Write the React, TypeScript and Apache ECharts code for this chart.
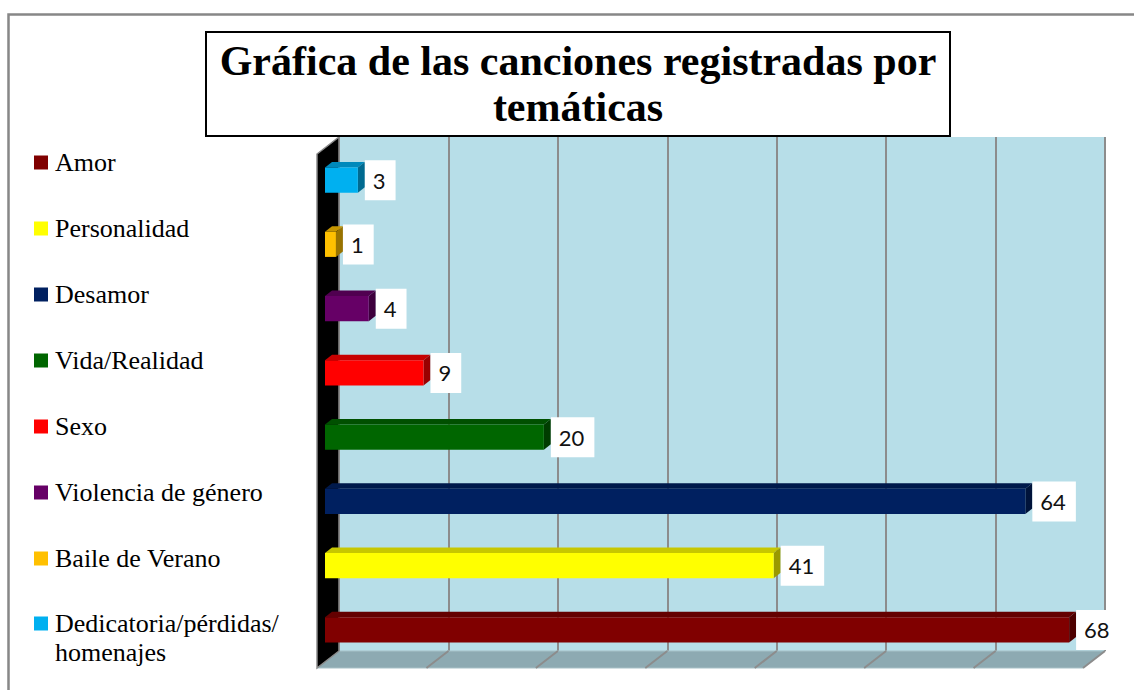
import React, { useEffect, useRef } from 'react';
import * as echarts from 'echarts';

// Categories listed bottom-first (category axis starts at the bottom)
const categories = [
  'Amor',
  'Personalidad',
  'Desamor',
  'Vida/Realidad',
  'Sexo',
  'Violencia de género',
  'Baile de Verano',
  'Dedicatoria/pérdidas/homenajes',
];
const values = [68, 41, 64, 20, 9, 4, 1, 3];
const colors = ['#800000', '#FFFF00', '#002060', '#006600', '#FF0000', '#660066', '#FFC000', '#00B0F0'];
const titleText = 'Gráfica de las canciones registradas por\ntemáticas';
const xMin = 0;
const xMax = 70;
const xStep = 10;

function shade(hex: string, f: number): string {
  const n = parseInt(hex.slice(1), 16);
  const r = Math.round(((n >> 16) & 255) * f);
  const g = Math.round(((n >> 8) & 255) * f);
  const b = Math.round((n & 255) * f);
  return `rgb(${r},${g},${b})`;
}

export default function App() {
  const ref = useRef<HTMLDivElement>(null);

  useEffect(() => {
    document.body.style.margin = '0';
    const chart = echarts.init(ref.current as HTMLDivElement, null, { renderer: 'svg' });

    // projection offsets (pixels) for the 3D look
    const FX = -14, FY = 11; // front face of bars
    const BX = -7, BY = 5.5; // back face of bars
    const DX = -22, DY = 17; // wall depth

    const wallSeries: any = {
      type: 'custom',
      name: '__walls',
      z: 1,
      silent: true,
      data: [[0, 0]],
      encode: { x: 0, y: 1 },
      renderItem: (params: any, api: any) => {
        const cs = params.coordSys;
        const x = cs.x, y = cs.y, w = cs.width, h = cs.height;
        const children: any[] = [
          {
            type: 'polygon',
            shape: { points: [[x, y + h], [x + w, y + h], [x + w + DX, y + h + DY], [x + DX, y + h + DY]] },
            style: { fill: '#8DAAB2', stroke: '#A7C1C7', lineWidth: 1 },
          },
          {
            type: 'polygon',
            shape: { points: [[x, y], [x, y + h], [x + DX, y + h + DY], [x + DX, y + DY]] },
            style: { fill: '#000000', stroke: '#8A8A8A', lineWidth: 1.5 },
          },
        ];
        for (let v = xMin + xStep; v <= xMax; v += xStep) {
          const px = api.coord([v, 0])[0];
          children.push({
            type: 'line',
            shape: { x1: px, y1: y + h, x2: px + DX, y2: y + h + DY },
            style: { stroke: '#8C8C8C', lineWidth: 2 },
          });
        }
        return { type: 'group', children };
      },
    };

    const barSeries: any[] = categories.map((name, i) => ({
      type: 'custom',
      name,
      z: 3,
      itemStyle: { color: colors[i] },
      data: [[values[i], i]],
      encode: { x: 0, y: 1 },
      renderItem: (params: any, api: any) => {
        const v = api.value(0);
        const c = api.value(1);
        const s = api.coord([xMin, c]);
        const e = api.coord([v, c]);
        const band = api.size([0, 1])[1];
        const h = band * 0.39;
        const cy = s[1] + FY;
        const top = cy - h / 2;
        const x0 = s[0] + FX, x1 = e[0] + FX;
        const xb0 = s[0] + BX, xb1 = e[0] + BX;
        const dy = FY - BY;
        return {
          type: 'group',
          children: [
            {
              type: 'polygon',
              shape: { points: [[x0, top], [x1, top], [xb1, top - dy], [xb0, top - dy]] },
              style: { fill: shade(colors[i], 0.78) },
            },
            {
              type: 'polygon',
              shape: { points: [[x1, top], [xb1, top - dy], [xb1, top - dy + h], [x1, top + h]] },
              style: { fill: shade(colors[i], 0.6) },
            },
            {
              type: 'rect',
              shape: { x: x0, y: top, width: x1 - x0, height: h },
              style: { fill: colors[i] },
            },
            {
              type: 'text',
              x: xb1,
              y: cy,
              style: {
                text: String(v),
                fontSize: 22,
                fontFamily: 'Lato',
                fill: '#111111',
                align: 'left',
                verticalAlign: 'middle',
                backgroundColor: '#ffffff',
                padding: [9, 10, 9, 8],
                lineHeight: 22,
              },
            },
          ],
        };
      },
    }));

    const legendText = {
      fontFamily: 'Liberation Serif',
      fontSize: 26,
      color: '#000000',
      lineHeight: 29,
      padding: [0, 0, 0, 2],
    };

    chart.setOption({
      animation: false,
      backgroundColor: '#ffffff',
      title: {
        text: titleText,
        left: 564,
        top: 32,
        textAlign: 'center',
        padding: [6, 14, 6, 14],
        borderColor: '#000000',
        borderWidth: 2,
        backgroundColor: '#ffffff',
        textStyle: {
          fontFamily: 'Liberation Serif',
          fontWeight: 'bold',
          fontSize: 42,
          lineHeight: 46,
          color: '#000000',
        },
      },
      legend: [
        {
          orient: 'vertical',
          left: 34,
          top: 148,
          padding: 0,
          itemGap: 37,
          itemWidth: 14,
          itemHeight: 14,
          icon: 'rect',
          data: categories.slice(0, 7),
          textStyle: legendText,
        },
        {
          orient: 'vertical',
          left: 34,
          top: 580,
          padding: 0,
          itemWidth: 14,
          itemHeight: 14,
          icon: 'rect',
          data: categories.slice(7),
          // leading empty line keeps the first text line level with the icon
          formatter: (n: string) => '\n' + n.replace('pérdidas/', 'pérdidas/\n'),
          textStyle: legendText,
        },
      ],
      grid: {
        left: 339,
        right: 29,
        top: 137,
        bottom: 39,
        show: true,
        backgroundColor: '#B7DEE8',
        borderWidth: 0,
      },
      xAxis: {
        type: 'value',
        min: xMin,
        max: xMax,
        interval: xStep,
        axisLabel: { show: false },
        axisLine: { show: false },
        axisTick: { show: false },
        splitLine: { show: true, lineStyle: { color: '#8C8C8C', width: 2 } },
      },
      yAxis: {
        type: 'category',
        data: categories,
        axisLabel: { show: false },
        axisLine: { show: false },
        axisTick: { show: false },
        splitLine: { show: false },
      },
      graphic: [
        {
          type: 'rect',
          silent: true,
          z: 100,
          shape: { x: 8.5, y: 14.5, width: 1200, height: 800 },
          style: { fill: 'none', stroke: '#878787', lineWidth: 2.5 },
        },
      ],
      series: [wallSeries, ...barSeries],
    });

    return () => {
      chart.dispose();
    };
  }, []);

  return <div ref={ref} style={{ width: 1134, height: 690 }} />;
}
